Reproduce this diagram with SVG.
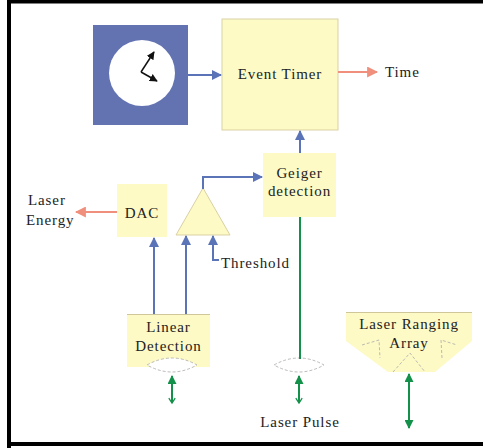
<svg xmlns="http://www.w3.org/2000/svg" width="483" height="448" viewBox="0 0 483 448">
<style>
.box{fill:#fdfac6;stroke:#d9d1a3;stroke-width:1}
.nob{fill:#fdfac6;stroke:none}
.lbl{font-family:"Liberation Serif","Times New Roman",serif;font-size:15px;fill:#222;letter-spacing:0.9px}
.blue{stroke:#5b74b7;stroke-width:2;fill:none}
.sal{stroke:#ef8f7c;stroke-width:2;fill:none}
.grn{stroke:#13914a;stroke-width:2;fill:none}
.dash{fill:none;stroke:#aaa;stroke-width:0.8;stroke-dasharray:3,2}
</style>
<defs>
<marker id="ab" viewBox="0 0 10 10" refX="9" refY="5" markerWidth="10" markerHeight="10" markerUnits="userSpaceOnUse" orient="auto"><path d="M0,0 L10,5 L0,10 Z" fill="#5b74b7"/></marker>
<marker id="as" viewBox="0 0 10 10" refX="9" refY="5" markerWidth="11" markerHeight="11" markerUnits="userSpaceOnUse" orient="auto"><path d="M0,0 L10,5 L0,10 Z" fill="#ef8f7c"/></marker>
<marker id="ag" viewBox="0 0 10 10" refX="9" refY="5" markerWidth="10" markerHeight="9" markerUnits="userSpaceOnUse" orient="auto-start-reverse"><path d="M0,0 L10,5 L0,10 Z" fill="#13914a"/></marker>
<marker id="tg" viewBox="0 0 10 10" refX="2" refY="5" markerWidth="8" markerHeight="8" markerUnits="userSpaceOnUse" orient="auto"><path d="M8,1 L2,5 L8,9" fill="none" stroke="#13914a" stroke-width="1.6"/></marker>
<marker id="ak" viewBox="0 0 10 10" refX="9" refY="5" markerWidth="8" markerHeight="8" markerUnits="userSpaceOnUse" orient="auto"><path d="M0,0 L10,5 L0,10 Z" fill="#111"/></marker>
</defs>

<g id="frame">
<path d="M9,448 V1.5 H483" fill="none" stroke="#000" stroke-width="4"/>
<line x1="7" y1="444" x2="483" y2="444" stroke="#000" stroke-width="4"/>
</g>

<g id="clock">
<rect x="93" y="25" width="95" height="100" fill="#6373b2"/>
<circle cx="142" cy="73" r="33" fill="#fff"/>
<line x1="141" y1="72" x2="154" y2="52" stroke="#111" stroke-width="1.5" marker-end="url(#ak)"/>
<line x1="141" y1="72" x2="157" y2="81" stroke="#111" stroke-width="1.5" marker-end="url(#ak)"/>
</g>

<g id="event-timer">
<rect class="box" x="222" y="19" width="116" height="111"/>
<text class="lbl" x="280" y="79" text-anchor="middle">Event Timer</text>
</g>

<g id="time"><text class="lbl" x="385" y="77">Time</text></g>

<g id="geiger">
<rect class="nob" x="263" y="153" width="73" height="64"/>
<text class="lbl" x="299.5" y="178" text-anchor="middle">Geiger</text>
<text class="lbl" x="299.5" y="196" text-anchor="middle">detection</text>
</g>

<g id="dac">
<rect class="nob" x="117" y="184" width="50" height="53"/>
<text class="lbl" x="142" y="218" text-anchor="middle">DAC</text>
</g>

<g id="laser-energy">
<text class="lbl" x="28" y="205">Laser</text>
<text class="lbl" x="26" y="225">Energy</text>
</g>

<g id="amplifier">
<polygon points="203,188 230,235 176,235" fill="#fdfac6" stroke="#d9d1a3" stroke-width="1"/>
</g>

<g id="threshold"><text class="lbl" x="221" y="268">Threshold</text></g>

<g id="linear-detection">
<rect class="nob" x="127" y="314" width="83" height="53"/>
<line x1="127" y1="314.5" x2="210" y2="314.5" stroke="#cfc79a" stroke-width="1"/>
<text class="lbl" x="168.5" y="332" text-anchor="middle">Linear</text>
<text class="lbl" x="168.5" y="351" text-anchor="middle">Detection</text>
<path d="M147,365 Q172,351 197,365 Q172,379 147,365 Z" fill="#fff" stroke="#aaa" stroke-width="0.8" stroke-dasharray="3,2"/>
</g>

<g id="pulse-lens">
<path d="M274,365 Q299,351 324,365 Q299,379 274,365 Z" fill="#fff" stroke="#aaa" stroke-width="0.8" stroke-dasharray="3,2"/>
</g>

<g id="laser-pulse"><text class="lbl" x="300" y="427" text-anchor="middle">Laser Pulse</text></g>

<g id="laser-ranging-array">
<path d="M346,312 H472 V341 L435,372 H388 L346,341 Z" fill="#fdfac6" stroke="none"/>
<line x1="346" y1="312.5" x2="472" y2="312.5" stroke="#cfc79a" stroke-width="1"/>
<path class="dash" d="M362,345 L379,340 L380,358"/>
<path class="dash" d="M393,372 L410,353 L425,372"/>
<path class="dash" d="M442,358 L441,340 L457,345"/>
<text class="lbl" x="409" y="329" text-anchor="middle">Laser Ranging</text>
<text class="lbl" x="409" y="348" text-anchor="middle">Array</text>
</g>

<g id="connectors">
<line class="blue" x1="188" y1="75" x2="221" y2="75" marker-end="url(#ab)"/>
<line class="sal" x1="338" y1="72" x2="377" y2="72" marker-end="url(#as)"/>
<line class="blue" x1="300" y1="153" x2="300" y2="131" marker-end="url(#ab)"/>
<polyline class="blue" points="203,189 203,177 262,177" marker-end="url(#ab)"/>
<line class="sal" x1="117" y1="212" x2="76" y2="212" marker-end="url(#as)"/>
<line class="blue" x1="154" y1="314" x2="154" y2="238" marker-end="url(#ab)"/>
<line class="blue" x1="186" y1="314" x2="186" y2="236" marker-end="url(#ab)"/>
<polyline class="blue" points="219,260 213,260 213,236" marker-end="url(#ab)"/>
<line class="grn" x1="300" y1="217" x2="300" y2="359"/>
<line class="grn" x1="172" y1="403" x2="172" y2="376" marker-start="url(#tg)" marker-end="url(#ag)"/>
<line class="grn" x1="299" y1="403" x2="299" y2="376" marker-start="url(#tg)" marker-end="url(#ag)"/>
<line class="grn" x1="409" y1="374" x2="409" y2="428" marker-start="url(#ag)" marker-end="url(#ag)"/>
</g>
</svg>
